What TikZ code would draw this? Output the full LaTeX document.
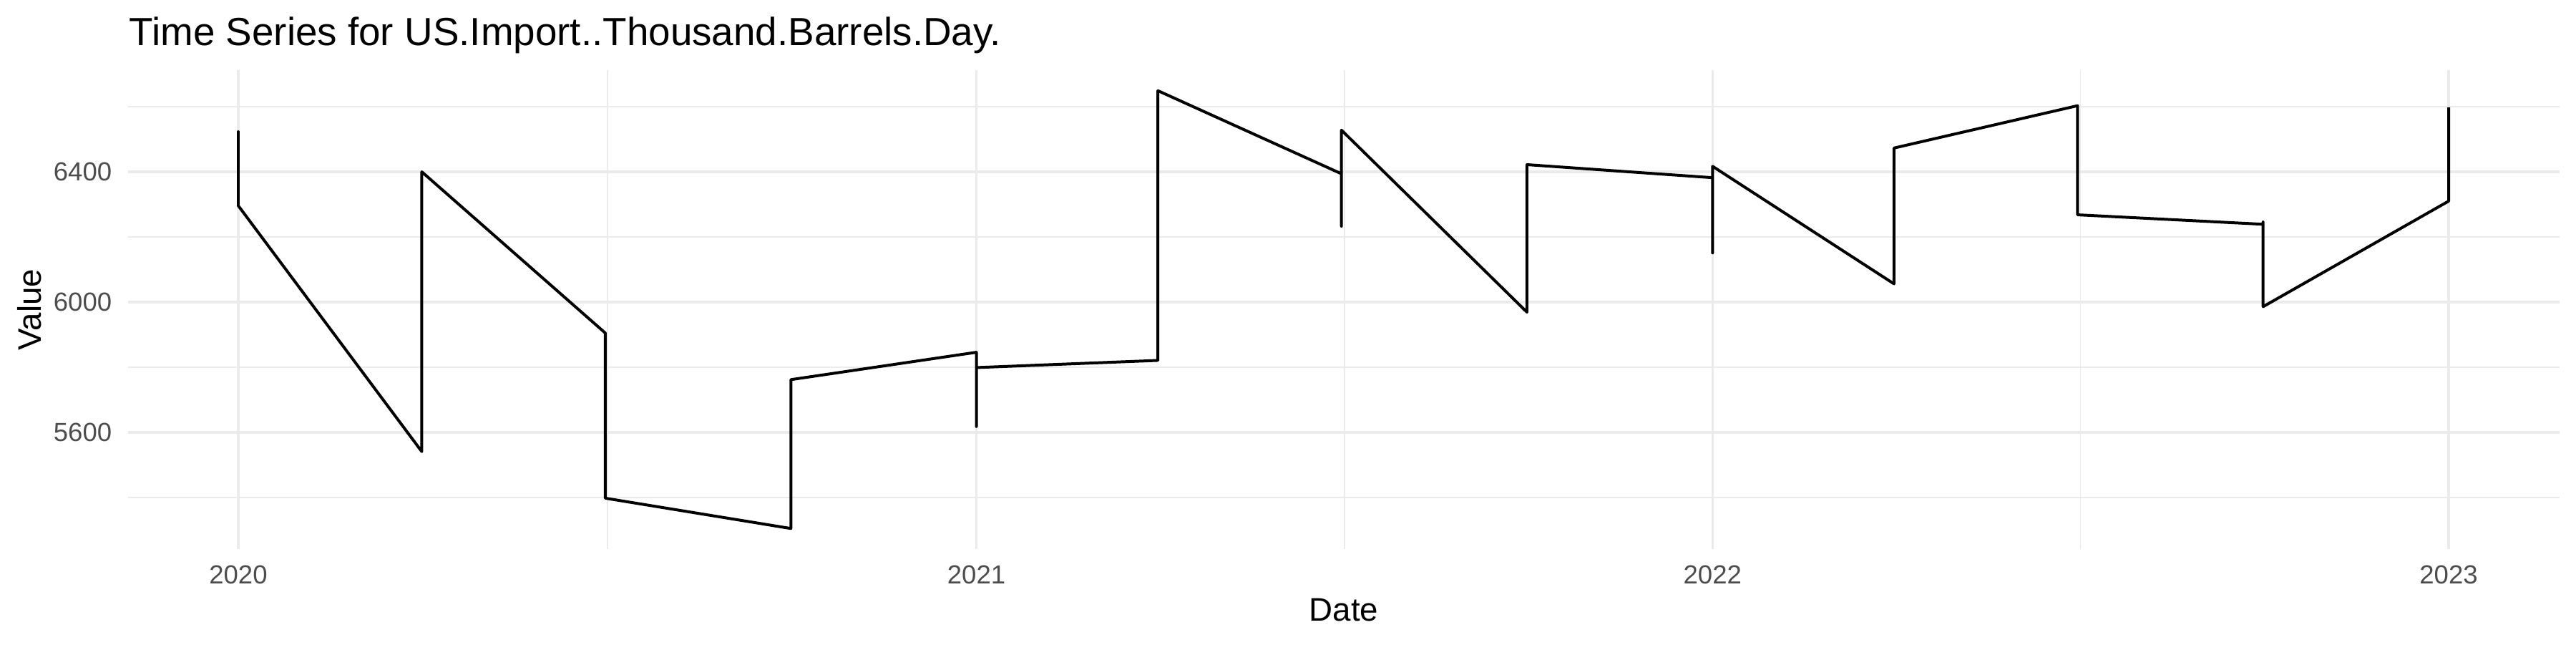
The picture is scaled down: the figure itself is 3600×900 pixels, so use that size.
\documentclass[tikz,border=0pt]{standalone}
\usepackage{fontspec}
\setmainfont{Liberation Sans}
\usetikzlibrary{math}
\definecolor{gridgrey}{HTML}{EBEBEB}
\definecolor{ticktext}{HTML}{4D4D4D}

\begin{document}
\begin{tikzpicture}[x=0.24088pt,y=-0.24088pt,
	declare function={gx(\d)=333+2.8184*\d; gy(\v)=422-0.455*(\v-6000);},
	majorgrid/.style={draw=gridgrey,line width=0.8pt},
	minorgrid/.style={draw=gridgrey,line width=0.4pt},
	ticklabel/.style={text=ticktext,font=\fontsize{8.8}{10}\selectfont,inner sep=0pt},
	axistitle/.style={font=\fontsize{11}{13}\selectfont,inner sep=0pt},
	dataline/.style={line width=0.96pt,line join=round}]
\useasboundingbox[fill=white] (0,0) rectangle (3600,900);
\foreach \v in {5400,5800,6200,6600}
	\draw[minorgrid] (178.5,{gy(\v)}) -- (3576.5,{gy(\v)});
\foreach \d in {183,548.5,913.5}
	\draw[minorgrid] ({gx(\d)},98) -- ({gx(\d)},767);
\foreach \v in {5600,6000,6400}{
	\draw[majorgrid] (178.5,{gy(\v)}) -- (3576.5,{gy(\v)});
	\node[ticklabel,anchor=east] (tick\v) at (157,{gy(\v)}) {\v};
}
\foreach \d/\yr in {0/2020,366/2021,731/2022,1096/2023}{
	\draw[majorgrid] ({gx(\d)},98) -- ({gx(\d)},767);
	\node[ticklabel,anchor=base] (tick\yr) at ({gx(\d)},815) {\yr};
}
\draw[dataline] ({gx(0)},{gy(6400)}) -- ({gx(0)},{gy(6523)})
	\foreach \d/\v in {0/6296,91/5541,91/6400,182/5905,182/5398,274/5305,274/5762,
		366/5846,366/5618,366/5799,456/5821,456/6649,547/6394,547/6233,547/6528,
		639/5969,639/6422,731/6382,731/6151,731/6417,821/6056,821/6473,912/6603,
		912/6268,1004/6239,1004/6246,1004/5986,1096/6310,1096/6598}{ -- ({gx(\d)},{gy(\v)}) };
\node[font=\fontsize{13.2}{15}\selectfont,anchor=base west,inner sep=0pt] (title) at (180,63) {Time Series for US.Import..Thousand.Barrels.Day.};
\node[axistitle,anchor=base] (datetitle) at (1878,867) {Date};
\node[axistitle,rotate=90,anchor=base] (valuetitle) at (57,432.5) {Value};
\end{tikzpicture}
\end{document}
